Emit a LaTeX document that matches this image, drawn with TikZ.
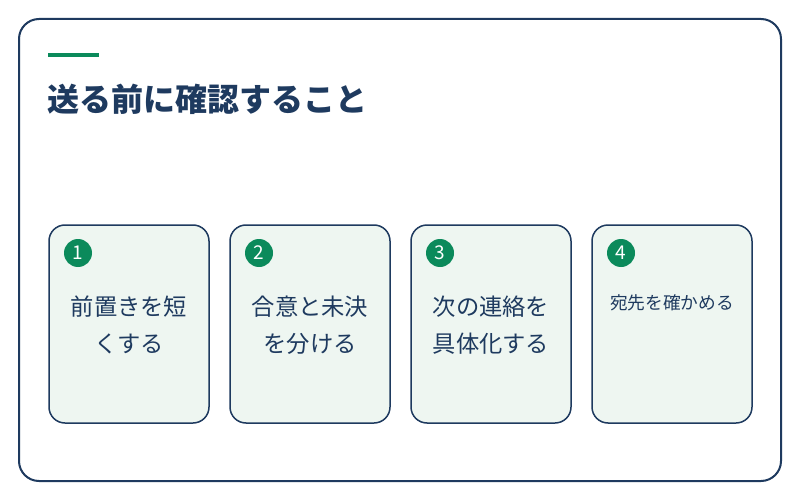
\documentclass[tikz,border=0pt]{standalone}
\usepackage{fontspec}
\newfontfamily\cjk{Noto Sans CJK JP}
\definecolor{navy}{HTML}{1E3A5F}
\definecolor{accent}{HTML}{0B8A5B}
\definecolor{cardfill}{HTML}{EEF6F1}
\tikzset{
  frame/.style={draw=navy, line width=2pt, rounded corners=20pt, fill=white},
  card/.style={draw=navy, line width=1.5pt, rounded corners=16pt, fill=cardfill},
  badge/.style={circle, fill=accent, minimum size=28pt, inner sep=0pt, text=white, font=\cjk\fontsize{19}{19}\selectfont},
  cardtext/.style={text=navy, align=center, font=\cjk\fontsize{23.3}{37}\selectfont, inner sep=0pt},
}
\begin{document}
\begin{tikzpicture}[x=1pt,y=-1pt]
\useasboundingbox (0,0) rectangle (800,500);
\fill[white] (0,0) rectangle (800,500);
\draw[frame] (19,19) rectangle (781,481);
\fill[accent] (48,53.5) rectangle (99,57.5);
\node[anchor=base west, inner sep=0pt, text=navy, font=\cjk\bfseries\fontsize{32}{32}\selectfont] (title) at (47,112) {送る前に確認すること};
\foreach \i/\x in {1/49,2/230,3/411,4/592}{
  \draw[card] (\x,225) rectangle ++(160,198);
  \node[badge] (b\i) at (\x+29,253) {\i};
}
\node[cardtext] (t1) at (129,325) {前置きを短\\くする};
\node[cardtext] (t2) at (310,325) {合意と未決\\を分ける};
\node[cardtext] (t3) at (491,325) {次の連絡を\\具体化する};
\node[text=navy, font=\cjk\fontsize{17.7}{20}\selectfont, inner sep=0pt] (t4) at (672,303) {宛先を確かめる};
\end{tikzpicture}
\end{document}
